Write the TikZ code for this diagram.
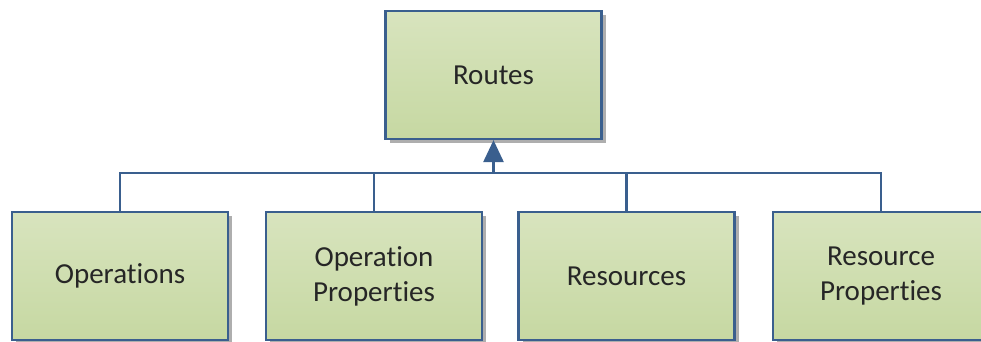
\documentclass[tikz,border=0pt]{standalone}
\usepackage{fontspec}
\setmainfont{Carlito}[Ligatures={NoCommon}]
\usetikzlibrary{shadows,arrows.meta}
\definecolor{bordc}{HTML}{3A5F8E}
\definecolor{topg}{HTML}{D8E4BE}
\definecolor{botg}{HTML}{C6D8A2}
\begin{document}
\begin{tikzpicture}[x=1pt,y=1pt,
  box/.style={draw=bordc, line width=2.2pt, top color=topg, bottom color=botg,
    minimum width=216pt, minimum height=128pt, inner sep=0pt, align=center,
    font=\fontsize{29}{35}\selectfont, text=black!85,
    drop shadow={shadow xshift=4pt, shadow yshift=-4pt, fill=black!45, opacity=0.7}},
  conn/.style={draw=bordc, line width=2.6pt}]
\useasboundingbox (0,0) rectangle (981,342);
\node[box] (routes) at (493.5,267) {Routes};
\node[box] (ops) at (120,66) {Operations};
\node[box] (opp) at (374,66) {Operation\\Properties};
\node[box] (res) at (626.5,66) {Resources};
\node[box] (rsp) at (881,66) {Resource\\Properties};
\coordinate (bus) at (493.5,169);
\draw[conn] (ops.north) |- (bus);
\draw[conn] (rsp.north) |- (bus);
\draw[conn] (opp.north) -- (opp.north |- bus);
\draw[conn] (res.north) -- (res.north |- bus);
\draw[conn, -{Triangle[length=22pt,width=20pt]}] (bus) -- (routes.south);
\end{tikzpicture}
\end{document}
